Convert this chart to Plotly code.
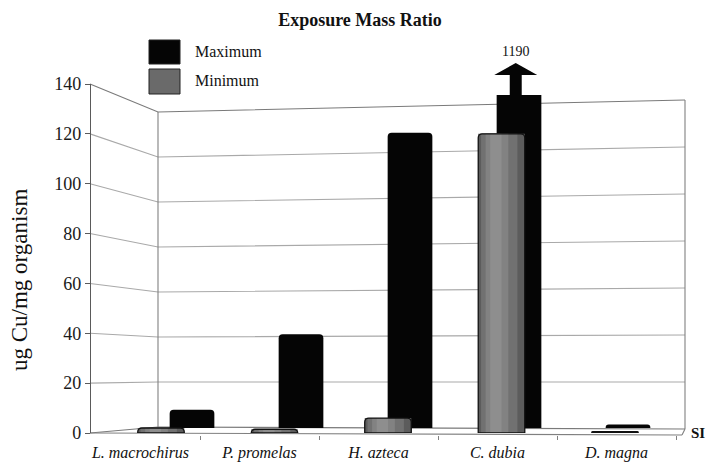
import plotly.graph_objects as go

# ---- data -------------------------------------------------------------
species = ["L. macrochirus", "P. promelas", "H. azteca", "C. dubia", "D. magna"]
maximum = [8, 41, 129, 1190, 1.5]      # ug Cu / mg organism
minimum = [2, 1.5, 6, 120, 0.5]
y_ticks = [0, 20, 40, 60, 80, 100, 120, 140]
off_scale_label = "1190"

# ---- page geometry helpers (pixel -> paper) ---------------------------
W, H = 707, 464


def px(x):
    return x / W


def py(y):
    return 1 - y / H


# pseudo-3D frame: front axis, back wall left and right edges
FRONT_X, WALL_L, WALL_R = 90, 158, 685


def front_y(v):
    return 433 - v * 349 / 140


def wall_left_y(v):
    return 427 - v * 315 / 140


def wall_right_y(v):
    return 429 - v * 329 / 140


idx = list(range(len(species)))
BAR_W = 0.41

fig = go.Figure()

# back row: maximum (black columns)
fig.add_trace(go.Bar(
    x=idx, y=maximum, width=BAR_W, xaxis="x", yaxis="y",
    marker=dict(color="#050505", line=dict(width=0), cornerradius=4),
    hoverinfo="skip", showlegend=False,
))

# front row: minimum (shaded grey cylinders, built from stacked layers)
layers = [("#5c5c5c", BAR_W, 0.0), ("#717171", 0.32, -0.02),
          ("#828282", 0.2, -0.04), ("#8e8e8e", 0.1, -0.05)]
for color, w, shift in layers:
    fig.add_trace(go.Bar(
        x=idx, y=minimum, width=w, offset=-w / 2 + shift,
        xaxis="x2", yaxis="y2",
        marker=dict(color=color, line=dict(width=0)),
        hoverinfo="skip", showlegend=False,
    ))
fig.add_trace(go.Bar(
    x=idx, y=minimum, width=BAR_W, offset=-BAR_W / 2,
    xaxis="x2", yaxis="y2",
    marker=dict(color="rgba(0,0,0,0)", line=dict(width=1.3, color="#111"),
                cornerradius=4),
    hoverinfo="skip", showlegend=False,
))

# carrier for the category axis
fig.add_trace(go.Scatter(
    x=idx, y=[0] * len(idx), xaxis="x3", yaxis="y2", mode="markers",
    marker=dict(opacity=0), hoverinfo="skip", showlegend=False,
))

shapes = []
# grid lines running from the front axis onto the back wall
for v in y_ticks:
    edge = v in (0, 140)
    shapes.append(dict(
        type="path", xref="paper", yref="paper", layer="below",
        path=(f"M {px(FRONT_X)},{py(front_y(v))} "
              f"L {px(WALL_L)},{py(wall_left_y(v))} "
              f"L {px(WALL_R)},{py(wall_right_y(v))}"),
        line=dict(color="#7a7a7a" if edge else "#a9a9a9", width=1.1),
    ))
# back wall verticals and floor edges
for (x0, y0, x1, y1) in [
    (WALL_L, wall_left_y(140), WALL_L, wall_left_y(0)),
    (WALL_R, wall_right_y(140), WALL_R, wall_right_y(0)),
    (FRONT_X, 433, 682, 435),
    (682, 435, WALL_R, wall_right_y(0)),
]:
    shapes.append(dict(type="line", xref="paper", yref="paper", layer="below",
                       x0=px(x0), y0=py(y0), x1=px(x1), y1=py(y1),
                       line=dict(color="#808080", width=1.1)))

# arrow on the off-scale column
c, sw, hw = 3 - 0.03, 0.055, 0.197
shapes.append(dict(
    type="path", xref="x", yref="paper", layer="above",
    path=(f"M {c - sw},{py(97)} L {c - sw},{py(75)} L {c - hw},{py(75)} "
          f"L {c},{py(63)} L {c + hw},{py(75)} L {c + sw},{py(75)} "
          f"L {c + sw},{py(97)} Z"),
    fillcolor="#050505", line=dict(width=0),
))

# legend keys
shapes.append(dict(type="rect", xref="paper", yref="paper",
                   x0=px(149), x1=px(180), y0=py(64), y1=py(40),
                   fillcolor="#050505", line=dict(color="#222", width=1)))
shapes.append(dict(type="rect", xref="paper", yref="paper",
                   x0=px(149), x1=px(180), y0=py(94), y1=py(69),
                   fillcolor="#6a6a6a", line=dict(color="#222", width=1)))

serif = "Liberation Serif"
annotations = [
    dict(text="Maximum", x=px(193), y=py(52), xref="paper", yref="paper",
         xanchor="left", yanchor="middle", showarrow=False,
         font=dict(family=serif, size=16, color="#111")),
    dict(text="Minimum", x=px(193), y=py(81), xref="paper", yref="paper",
         xanchor="left", yanchor="middle", showarrow=False,
         font=dict(family=serif, size=16, color="#111")),
    dict(text="ug Cu/mg organism", x=px(19), y=py(280), xref="paper",
         yref="paper", textangle=-90, xanchor="center", yanchor="middle",
         showarrow=False, font=dict(family=serif, size=23, color="#111")),
    dict(text=off_scale_label, x=3 - 0.03, y=py(52), xref="x", yref="paper",
         xanchor="center", yanchor="middle", showarrow=False,
         font=dict(family=serif, size=14, color="#111")),
    dict(text="<b>SI</b>", x=px(706), y=py(433), xref="paper",
         yref="paper", xanchor="right", yanchor="middle", showarrow=False,
         borderpad=0, font=dict(family=serif, size=15, color="#111")),
]

fig.update_layout(
    template="none",
    width=W, height=H, autosize=False,
    margin=dict(l=0, r=0, t=0, b=0, pad=0, autoexpand=False),
    paper_bgcolor="white", plot_bgcolor="rgba(0,0,0,0)",
    barmode="overlay", showlegend=False,
    title=dict(text="<b>Exposure Mass Ratio</b>", x=px(360), y=py(20),
               xref="paper", yref="paper", xanchor="center",
               yanchor="middle", automargin=False,
               font=dict(family=serif, size=18, color="#111")),
    xaxis=dict(domain=[px(137.5), px(682.5)], range=[-0.5, 4.5],
               visible=False, anchor="y", automargin=False),
    yaxis=dict(domain=[py(428), py(95)], range=[0, 145.5],
               visible=False, anchor="x", automargin=False),
    xaxis2=dict(domain=[px(104.25), px(671.75)], range=[-0.5, 4.5],
                visible=False, anchor="y2", automargin=False),
    yaxis2=dict(domain=[py(433), py(84)], range=[0, 140], anchor="free",
                position=px(FRONT_X), showline=True, linecolor="#5a5a5a",
                linewidth=1.1, ticks="outside", ticklen=5, tickcolor="#5a5a5a",
                tickvals=y_ticks, showgrid=False, zeroline=False,
                automargin=False,
                tickfont=dict(family=serif, size=18, color="#1a1a1a")),
    xaxis3=dict(domain=[px(81), px(676)], range=[-0.5, 4.5], anchor="free",
                position=py(435), tickvals=idx, ticktext=species, ticks="",
                showline=False, showgrid=False, zeroline=False,
                automargin=False, ticklabelstandoff=6,
                tickfont=dict(family=serif, size=16, color="#111",
                              style="italic"),
                minor=dict(tickvals=[0.5, 1.5, 2.5, 3.5, 4.5], ticks="outside",
                           ticklen=4, tickcolor="#808080", showgrid=False)),
    shapes=shapes, annotations=annotations,
)

fig.write_html("out.html")
